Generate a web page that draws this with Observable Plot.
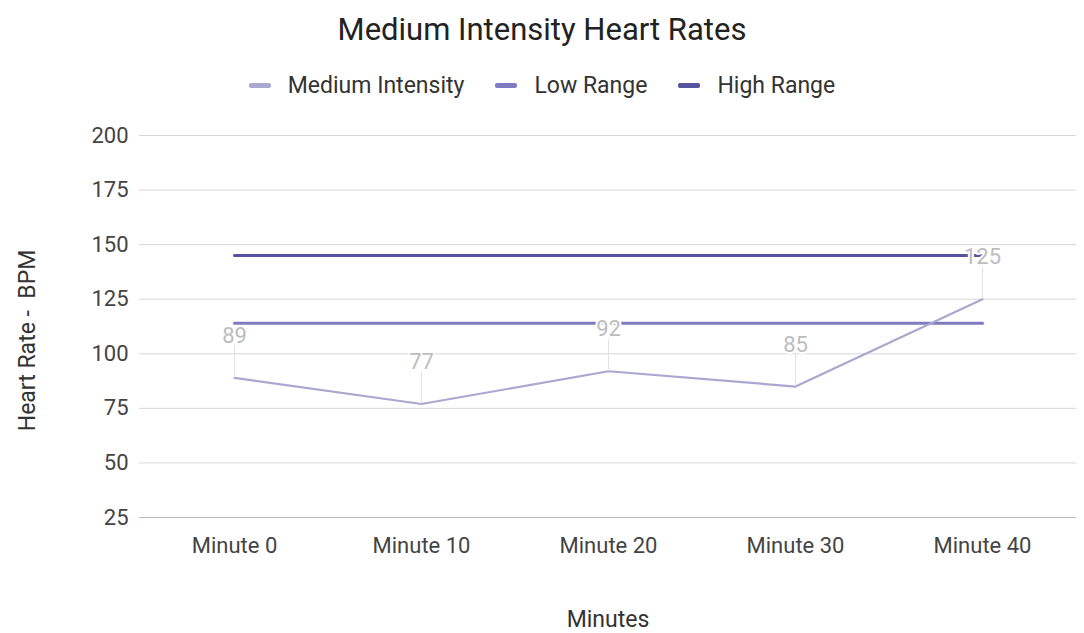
<!DOCTYPE html>
<html>
<head>
<meta charset="utf-8">
<script src="https://cdn.jsdelivr.net/npm/d3@7"></script>
<script src="https://cdn.jsdelivr.net/npm/@observablehq/plot@0.6"></script>
<style>
  html, body { margin: 0; padding: 0; background: #fff; font-family: Roboto, "Liberation Sans", sans-serif; }
  #title { height: 60px; line-height: 60px; text-align: center; font-size: 31px; color: #222; }
  #legend { height: 50px; display: flex; justify-content: center; align-items: center; font-size: 23px; color: #333; }
  .item { display: flex; align-items: center; margin: 0 15.5px; }
  .sw { width: 22px; height: 5px; border-radius: 2px; margin-right: 17px; }
  #chart svg { display: block; }
</style>
</head>
<body>
<div id="title">Medium Intensity Heart Rates</div>
<div id="legend"></div>
<div id="chart"></div>
<script>
const categories = ["Minute 0", "Minute 10", "Minute 20", "Minute 30", "Minute 40"];
const mediumIntensity = [89, 77, 92, 85, 125];
const lowRange = [114, 114, 114, 114, 114];
const highRange = [145, 145, 145, 145, 145];
const yTicks = [25, 50, 75, 100, 125, 150, 175, 200];
const seriesNames = ["Medium Intensity", "Low Range", "High Range"];
const seriesColors = ["#aaa7d0", "#7f7bc0", "#57529e"];

const legend = document.getElementById("legend");
seriesNames.forEach((n, i) => {
  const it = document.createElement("div");
  it.className = "item";
  it.innerHTML = `<span class="sw" style="background:${seriesColors[i]}"></span><span>${n}</span>`;
  legend.appendChild(it);
});

const med = categories.map((c, i) => ({c, v: mediumIntensity[i]}));
const low = categories.map((c, i) => ({c, v: lowRange[i]}));
const high = categories.map((c, i) => ({c, v: highRange[i]}));

const chart = Plot.plot({
  width: 1084,
  height: 523,
  marginTop: 25,
  marginBottom: 116,
  marginLeft: 139,
  marginRight: 8,
  style: {fontFamily: "Roboto, 'Liberation Sans', sans-serif", fontSize: "22px", color: "#444", background: "#fff"},
  x: {type: "point", domain: categories, padding: 0.5, label: null},
  y: {domain: [25, 200], label: null},
  marks: [
    Plot.ruleY(yTicks.slice(1), {stroke: "#d6d6d6", strokeWidth: 1}),
    Plot.ruleY([yTicks[0]], {stroke: "#bdbdbd", strokeWidth: 1}),
    Plot.axisY({ticks: yTicks, tickSize: 0, tickPadding: 11, label: null, fill: "#444"}),
    Plot.axisX({tickSize: 0, tickPadding: 20, label: null, fill: "#444"}),
    Plot.line(high, {x: "c", y: "v", stroke: seriesColors[2], strokeWidth: 3}),
    Plot.line(low, {x: "c", y: "v", stroke: seriesColors[1], strokeWidth: 3}),
    Plot.line(med, {x: "c", y: "v", stroke: seriesColors[0], strokeWidth: 2.2}),
    Plot.ruleX(med, {x: "c", y1: "v", y2: "v", insetTop: 0, insetBottom: 32, stroke: "#e2e2e2", strokeWidth: 1}),
    Plot.text(med, {x: "c", y: "v", text: d => String(d.v), dy: -42, fill: "#bdbdbd", stroke: "white", strokeWidth: 4, fontSize: 22}),
    Plot.text(["Heart Rate -  BPM"], {text: d => d, frameAnchor: "left", textAnchor: "middle", lineAnchor: "middle", dx: -112, dy: 14, rotate: -90, fill: "#333", fontSize: 23}),
    Plot.text(["Minutes"], {text: d => d, frameAnchor: "bottom", lineAnchor: "middle", dy: 102, fill: "#333", fontSize: 23})
  ]
});
document.getElementById("chart").appendChild(chart);
</script>
</body>
</html>
